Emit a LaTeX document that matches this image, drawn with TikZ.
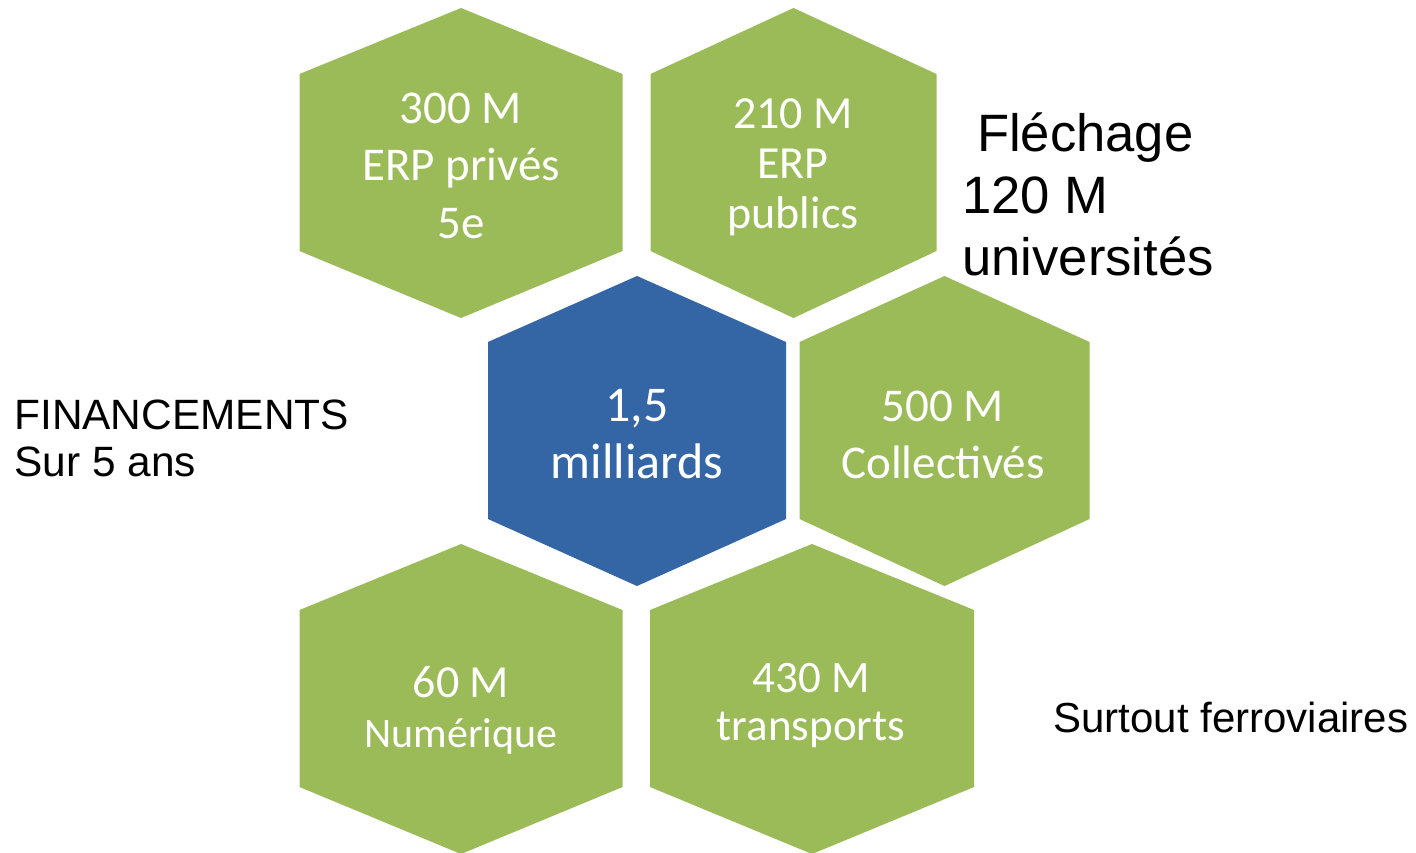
\documentclass[tikz,border=0pt]{standalone}
\usepackage{fontspec}
\setmainfont{Liberation Sans}
\newfontfamily\hexfont{Carlito}

\definecolor{hexgreen}{HTML}{9BBB59}
\definecolor{hexblue}{HTML}{3465A5}

% hexagon {centre x}{top y}{half width}{colour}
\newcommand{\hexagon}[4]{%
	\fill [#4] (#1,#2) -- ({#1+#3},{#2+66}) -- ({#1+#3},{#2+243}) -- (#1,{#2+310})
		-- ({#1-#3},{#2+243}) -- ({#1-#3},{#2+66}) -- cycle;}

\tikzset{
	hexlabel/.style={text=white, align=center, anchor=base, inner sep=0pt,
		font=\hexfont\fontsize{23}{28.75}\selectfont},
	note/.style={text=black, align=left, anchor=base west, inner sep=0pt}
}

\begin{document}
\begin{tikzpicture}[x=0.5pt, y=-0.5pt]
	\useasboundingbox (0,0) rectangle (1416,852);

	% Hexagons
	\hexagon{461}{8}{161.5}{hexgreen}
	\hexagon{793.5}{8}{143}{hexgreen}
	\hexagon{637}{276}{149}{hexblue}
	\hexagon{944.5}{276}{145}{hexgreen}
	\hexagon{461}{544}{161.5}{hexgreen}
	\hexagon{812}{544}{162}{hexgreen}

	% Nodes {prives, publics, total, collectivites, numerique, transports}
	% (base = baseline of the last line)
	\node [hexlabel, font=\hexfont\fontsize{23.5}{28.75}\selectfont]
		(prives) at (461,238) {300 M\\ERP privés\\5e};
	\node [hexlabel, font=\hexfont\fontsize{23}{25}\selectfont]
		(publics) at (793,228) {210 M\\ERP\\publics};
	\node [hexlabel, font=\hexfont\fontsize{25}{28.5}\selectfont]
		(total) at (637,478) {1,5\\milliards};
	\node [hexlabel, font=\hexfont\fontsize{23.5}{28.5}\selectfont]
		(collectivites) at (943,478) {500 M\\Collectivés};
	\node [hexlabel, font=\hexfont\fontsize{23}{25}\selectfont]
		(numerique) at (461,747) {60 M\\{\fontsize{21}{25}\selectfont Numérique}};
	\node [hexlabel, font=\hexfont\fontsize{22.5}{24}\selectfont]
		(transports) at (811,740) {430 M\\transports};

	% Notes
	\node [note, font=\fontsize{26.3}{31}\selectfont]
		(flechage) at (962,275) {\ Fléchage\\120 M\\universités};
	\node [note, font=\fontsize{21.2}{23.5}\selectfont]
		(financements) at (14,476) {FINANCEMENTS\\Sur 5 ans};
	\node [note, font=\fontsize{21}{25}\selectfont]
		(ferroviaires) at (1053,732) {Surtout ferroviaires};
\end{tikzpicture}
\end{document}
